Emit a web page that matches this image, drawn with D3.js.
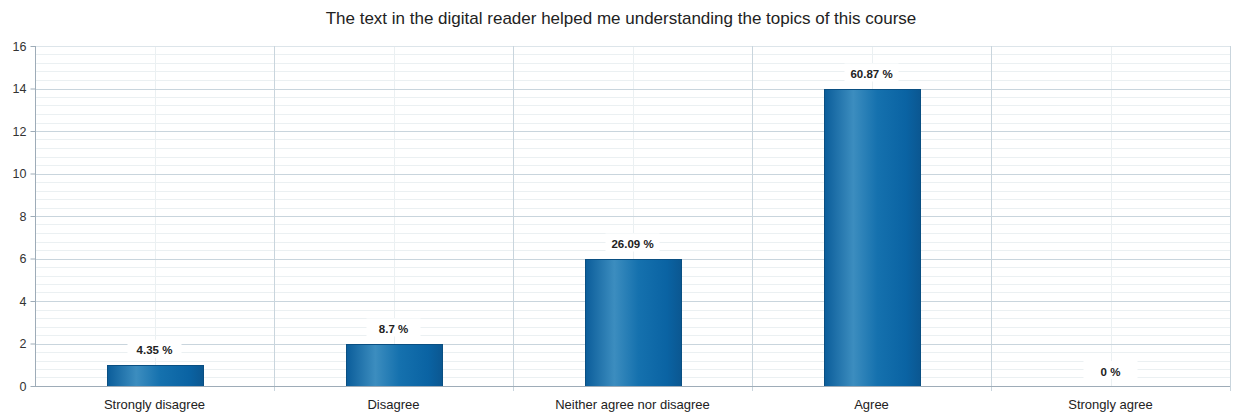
<!DOCTYPE html>
<html>
<head>
<meta charset="utf-8">
<script src="https://cdn.jsdelivr.net/npm/d3@7/dist/d3.min.js"></script>
<style>
  html, body { margin: 0; padding: 0; background: #fff; }
  svg { display: block; font-family: "Liberation Sans", Arial, sans-serif; }
</style>
</head>
<body>
<svg id="chart" width="1238" height="413"></svg>
<script>
// Survey responses: count of answers per category and share of total
const categories = ["Strongly disagree", "Disagree", "Neither agree nor disagree", "Agree", "Strongly agree"];
const counts = [1, 2, 6, 14, 0];
const percentLabels = ["4.35 %", "8.7 %", "26.09 %", "60.87 %", "0 %"];
const yTicks = [0, 2, 4, 6, 8, 10, 12, 14, 16];
const titleText = "The text in the digital reader helped me understanding the topics of this course";

const W = 1238, H = 413;
const margin = { top: 46, right: 8, bottom: 27, left: 35 };
const svg = d3.select("#chart");

const x = d3.scaleBand().domain(categories).range([margin.left, W - margin.right]).paddingInner(0).paddingOuter(0);
const y = d3.scaleLinear().domain([0, 16]).range([H - margin.bottom, margin.top]);

const defs = svg.append("defs");
const grad = defs.append("linearGradient").attr("id", "barGrad").attr("x1", "0%").attr("x2", "100%").attr("y1", "0%").attr("y2", "0%");
[["0%", "#0b5d9a"], ["30%", "#3c8dbf"], ["55%", "#1571ae"], ["85%", "#0a63a3"], ["100%", "#0b5791"]]
  .forEach(([o, c]) => grad.append("stop").attr("offset", o).attr("stop-color", c));

// Minor horizontal grid (every 0.4)
const minor = d3.range(0, 16.001, 0.4).filter(v => Math.abs(v / 2 - Math.round(v / 2)) > 1e-6);
svg.append("g").selectAll("line").data(minor).join("line")
  .attr("x1", margin.left).attr("x2", W - margin.right)
  .attr("y1", d => Math.round(y(d)) + 0.5).attr("y2", d => Math.round(y(d)) + 0.5)
  .attr("stroke", "#ebf0f2").attr("stroke-width", 1);

// Minor vertical grid at category centres
svg.append("g").selectAll("line").data(categories).join("line")
  .attr("x1", d => Math.round(x(d) + x.bandwidth() / 2) + 0.5)
  .attr("x2", d => Math.round(x(d) + x.bandwidth() / 2) + 0.5)
  .attr("y1", margin.top).attr("y2", H - margin.bottom)
  .attr("stroke", "#ebf0f2");

// Major horizontal grid
svg.append("g").selectAll("line").data(yTicks.slice(1)).join("line")
  .attr("x1", margin.left).attr("x2", W - margin.right)
  .attr("y1", d => Math.round(y(d)) + 0.5).attr("y2", d => Math.round(y(d)) + 0.5)
  .attr("stroke", d => d === 16 ? "#dde5ea" : "#c9d5dd");

// Major vertical grid at category boundaries
svg.append("g").selectAll("line").data(categories.slice(1)).join("line")
  .attr("x1", d => Math.round(x(d)) + 0.5).attr("x2", d => Math.round(x(d)) + 0.5)
  .attr("y1", margin.top).attr("y2", H - margin.bottom + 5)
  .attr("stroke", "#c9d5dd");
svg.append("line")
  .attr("x1", W - margin.right + 0.5).attr("x2", W - margin.right + 0.5)
  .attr("y1", margin.top).attr("y2", H - margin.bottom + 5)
  .attr("stroke", "#c9d5dd");

// Bars
const barW = x.bandwidth() * 0.4;
svg.append("g").selectAll("rect").data(categories.map((c, i) => ({ c, v: counts[i] })).filter(d => d.v > 0)).join("rect")
  .attr("x", d => Math.round(x(d.c) + (x.bandwidth() - barW) / 2) + 0.5)
  .attr("y", d => Math.round(y(d.v)) + 0.5)
  .attr("width", Math.round(barW))
  .attr("height", d => Math.round(y(0)) - Math.round(y(d.v)))
  .attr("fill", "url(#barGrad)")
  .attr("stroke", "#0a4f82").attr("stroke-width", 1);

// Value labels with white backing
const lab = svg.append("g").selectAll("g").data(categories.map((c, i) => ({ c, v: counts[i], t: percentLabels[i] }))).join("g")
  .attr("transform", d => `translate(${x(d.c) + x.bandwidth() / 2},${y(d.v) - 14})`);
lab.append("rect").attr("x", -27).attr("y", -11).attr("width", 54).attr("height", 18).attr("fill", "#fff");
lab.append("text").attr("text-anchor", "middle").attr("y", 0).attr("dy", "0.32em")
  .attr("font-size", 11.5).attr("font-weight", "bold").attr("fill", "#222").text(d => d.t);

// Y axis
const yAxis = svg.append("g").attr("transform", `translate(${margin.left + 0.5},0)`)
  .call(d3.axisLeft(y).tickValues(yTicks).tickSize(5).tickPadding(4).tickFormat(d3.format("d")));
yAxis.selectAll("line").attr("stroke", "#9eacb8");
yAxis.select(".domain").attr("stroke", "#9eacb8").attr("d", `M0,${margin.top}V${H - margin.bottom}`);
yAxis.selectAll("text").attr("font-size", 12.5).attr("fill", "#333").attr("font-family", "Liberation Sans, Arial, sans-serif");

// X axis
const xAxis = svg.append("g").attr("transform", `translate(0,${Math.round(y(0)) + 0.5})`)
  .call(d3.axisBottom(x).tickSize(0).tickPadding(13));
xAxis.select(".domain").attr("stroke", "#9eacb8").attr("d", `M${margin.left},0H${W - margin.right}`);
xAxis.selectAll("text").attr("font-size", 13).attr("fill", "#222").attr("font-family", "Liberation Sans, Arial, sans-serif");

// Title
svg.append("text").attr("x", 621).attr("y", 24).attr("text-anchor", "middle")
  .attr("font-size", 17).attr("fill", "#222").text(titleText);
</script>
</body>
</html>
